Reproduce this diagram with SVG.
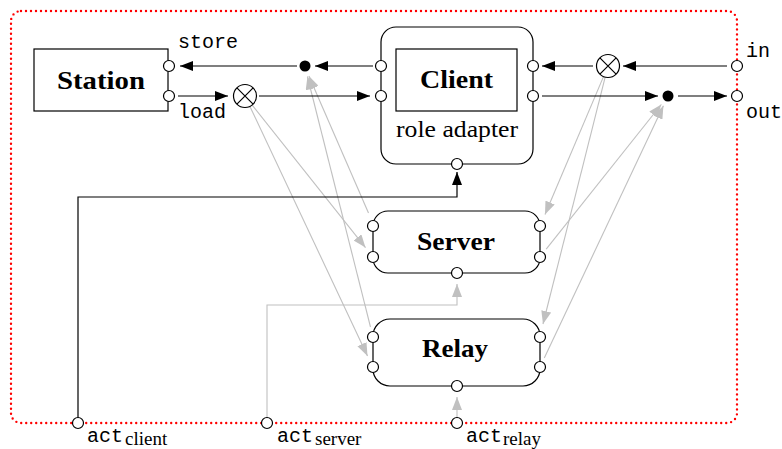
<svg xmlns="http://www.w3.org/2000/svg" width="782" height="449" viewBox="0 0 782 449">
  <style>
    .box { fill: #fff; stroke: #000; stroke-width: 1.2; }
    .port { fill: #fff; stroke: #000; stroke-width: 1.2; }
    .dot { fill: #000; }
    .otimes { fill: #fff; stroke: #000; stroke-width: 1.2; }
    .wire { fill: none; stroke: #000; stroke-width: 1.2; }
    .gwire { fill: none; stroke: #c0c0c0; stroke-width: 1.1; }
    .frame { fill: none; stroke: #ff0000; stroke-width: 2.4; stroke-dasharray: 0 5; stroke-linecap: round; }
    .title { font-family: "Liberation Serif", "Times New Roman", serif; font-weight: bold; font-size: 25px; fill: #000; text-anchor: middle; }
    .rm { font-family: "Liberation Serif", "Times New Roman", serif; font-size: 24px; fill: #000; text-anchor: middle; }
    .mono { font-family: "Liberation Mono", "Courier New", monospace; font-size: 20px; fill: #000; }
    .sub { font-family: "Liberation Serif", "Times New Roman", serif; font-size: 19px; }
  </style>
  <defs>
    <marker id="arrow" markerUnits="userSpaceOnUse" markerWidth="14" markerHeight="10" refX="13" refY="5" orient="auto">
      <path d="M0,0 L13,5 L0,10 z" fill="#000"/>
    </marker>
    <marker id="garrow" markerUnits="userSpaceOnUse" markerWidth="14" markerHeight="10" refX="13" refY="5" orient="auto">
      <path d="M0,0 L13,5 L0,10 z" fill="#c0c0c0"/>
    </marker>
  </defs>

  <!-- outer composite boundary -->
  <rect class="frame" x="11" y="11" width="726" height="412" rx="10"/>

  <!-- connectors -->
  <g id="connectors">
    <!-- gray role-switch wiring -->
    <line class="gwire" x1="251.8" y1="104.6" x2="365.5" y2="247.6" marker-end="url(#garrow)"/>
    <line class="gwire" x1="249.7" y1="105.9" x2="367.5" y2="356" marker-end="url(#garrow)"/>
    <line class="gwire" x1="368.5" y1="213" x2="308.9" y2="76" marker-end="url(#garrow)"/>
    <line class="gwire" x1="370.5" y1="327" x2="307.4" y2="76.5" marker-end="url(#garrow)"/>
    <line class="gwire" x1="603.7" y1="76.1" x2="545" y2="214.5" marker-end="url(#garrow)"/>
    <line class="gwire" x1="605.3" y1="76.7" x2="543" y2="324" marker-end="url(#garrow)"/>
    <line class="gwire" x1="546.2" y1="249.2" x2="661.3" y2="104.5" marker-end="url(#garrow)"/>
    <line class="gwire" x1="544.3" y1="358" x2="663.4" y2="105.8" marker-end="url(#garrow)"/>
    <path class="gwire" d="M267,417.5 V305 H457 V284" marker-end="url(#garrow)"/>
    <line class="gwire" x1="457" y1="417.5" x2="457" y2="397" marker-end="url(#garrow)"/>

    <!-- black data wiring -->
    <line class="wire" x1="297" y1="66" x2="180" y2="66" marker-end="url(#arrow)"/>
    <line class="wire" x1="373" y1="66" x2="315" y2="66" marker-end="url(#arrow)"/>
    <line class="wire" x1="178" y1="96" x2="228" y2="96" marker-end="url(#arrow)"/>
    <line class="wire" x1="259" y1="96" x2="370" y2="96" marker-end="url(#arrow)"/>
    <line class="wire" x1="727" y1="66" x2="623" y2="66" marker-end="url(#arrow)"/>
    <line class="wire" x1="593" y1="66" x2="542" y2="66" marker-end="url(#arrow)"/>
    <line class="wire" x1="542" y1="96" x2="658" y2="96" marker-end="url(#arrow)"/>
    <line class="wire" x1="678" y1="96" x2="727" y2="96" marker-end="url(#arrow)"/>
    <path class="wire" d="M78,417.5 V197 H457 V172" marker-end="url(#arrow)"/>
  </g>

  <!-- junctions -->
  <g id="store-join"><circle class="dot" cx="305" cy="66" r="5.5"/></g>
  <g id="out-join"><circle class="dot" cx="668" cy="96" r="5.5"/></g>
  <g id="load-select">
    <circle class="otimes" cx="245" cy="96" r="11.5"/>
    <path class="wire" d="M236.9,87.9 L253.1,104.1 M253.1,87.9 L236.9,104.1"/>
  </g>
  <g id="in-select">
    <circle class="otimes" cx="608" cy="66" r="11.5"/>
    <path class="wire" d="M599.9,57.9 L616.1,74.1 M616.1,57.9 L599.9,74.1"/>
  </g>

  <!-- Station -->
  <g id="station">
    <rect class="box" x="34" y="49" width="134" height="62"/>
    <text class="title" x="101" y="89" textLength="88" lengthAdjust="spacingAndGlyphs">Station</text>
    <circle class="port" cx="169" cy="66" r="5.5"/>
    <circle class="port" cx="169" cy="96" r="5.5"/>
    <text class="mono" x="178" y="48">store</text>
    <text class="mono" x="178" y="118">load</text>
  </g>

  <!-- Client role adapter -->
  <g id="client">
    <rect class="box" x="381" y="27" width="152" height="137" rx="15"/>
    <rect class="box" x="396" y="49" width="121" height="62"/>
    <text class="title" x="456.5" y="88" textLength="73" lengthAdjust="spacingAndGlyphs">Client</text>
    <text class="rm" x="457" y="137" textLength="122" lengthAdjust="spacingAndGlyphs">role adapter</text>
    <circle class="port" cx="381" cy="66" r="5.5"/>
    <circle class="port" cx="381" cy="96" r="5.5"/>
    <circle class="port" cx="533" cy="66" r="5.5"/>
    <circle class="port" cx="533" cy="96" r="5.5"/>
    <circle class="port" cx="457" cy="164" r="5.5"/>
  </g>

  <!-- Server -->
  <g id="server">
    <rect class="box" x="373" y="211" width="167" height="62" rx="15"/>
    <text class="title" x="456" y="250" textLength="78" lengthAdjust="spacingAndGlyphs">Server</text>
    <circle class="port" cx="373" cy="226" r="5.5"/>
    <circle class="port" cx="373" cy="257" r="5.5"/>
    <circle class="port" cx="540" cy="226" r="5.5"/>
    <circle class="port" cx="540" cy="257" r="5.5"/>
    <circle class="port" cx="457" cy="273" r="5.5"/>
  </g>

  <!-- Relay -->
  <g id="relay">
    <rect class="box" x="373" y="319" width="167" height="67" rx="17"/>
    <text class="title" x="455" y="357" textLength="66" lengthAdjust="spacingAndGlyphs">Relay</text>
    <circle class="port" cx="373" cy="337" r="5.5"/>
    <circle class="port" cx="373" cy="367" r="5.5"/>
    <circle class="port" cx="540" cy="337" r="5.5"/>
    <circle class="port" cx="540" cy="367" r="5.5"/>
    <circle class="port" cx="457" cy="386" r="5.5"/>
  </g>

  <!-- boundary ports -->
  <g id="port-in">
    <circle class="port" cx="737" cy="66" r="5.5"/>
    <text class="mono" x="746" y="57">in</text>
  </g>
  <g id="port-out">
    <circle class="port" cx="737" cy="96" r="5.5"/>
    <text class="mono" x="746" y="118">out</text>
  </g>
  <g id="port-act-client">
    <circle class="port" cx="78" cy="423" r="5.5"/>
    <text class="mono" x="87" y="442">act<tspan class="sub" dx="2" dy="3">client</tspan></text>
  </g>
  <g id="port-act-server">
    <circle class="port" cx="267" cy="423" r="5.5"/>
    <text class="mono" x="277" y="442">act<tspan class="sub" dx="2" dy="3">server</tspan></text>
  </g>
  <g id="port-act-relay">
    <circle class="port" cx="457" cy="423" r="5.5"/>
    <text class="mono" x="466" y="442">act<tspan class="sub" dx="1" dy="3">relay</tspan></text>
  </g>
</svg>
